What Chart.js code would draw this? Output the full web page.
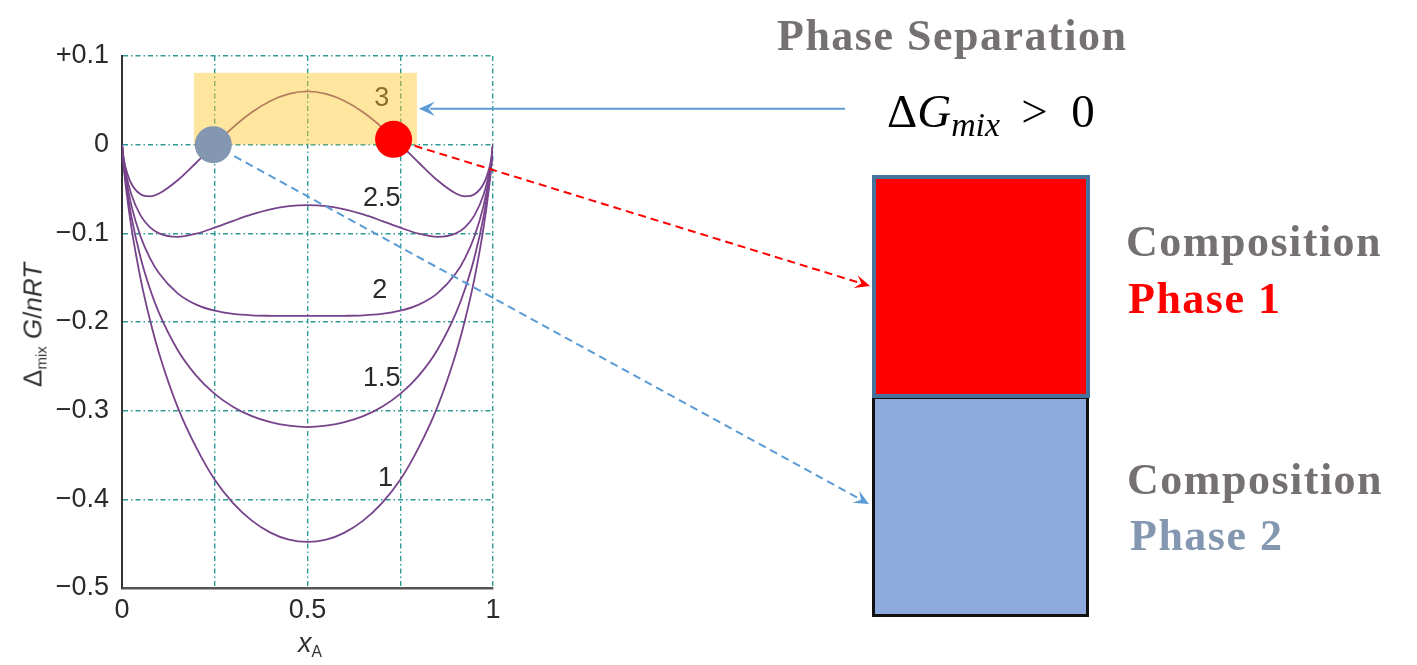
<!DOCTYPE html>
<html>
<head>
<meta charset="utf-8">
<script src="https://cdn.jsdelivr.net/npm/chart.js@4.4.1/dist/chart.umd.min.js"></script>
<style>
  body { margin: 0; background: #fff; }
  #wrap { position: relative; width: 1417px; height: 665px; overflow: hidden; }
  #chart { position: absolute; left: 0; top: 0; }
  .axis-title { position: absolute; font-family: "Liberation Sans", Arial, sans-serif; color: #333; white-space: nowrap; }
  .axis-title sub { font-size: 0.58em; vertical-align: baseline; position: relative; top: 0.3em; }
  #ytitle { left: 33px; top: 325px; font-size: 26px; transform: translate(-50%, -50%) rotate(-90deg); }
  #xtitle { left: 310px; top: 628px; font-size: 27px; transform: translateX(-50%); }
  .serif { position: absolute; font-family: "Liberation Serif", "Times New Roman", serif; font-weight: bold; font-size: 44px; line-height: 1; letter-spacing: 1.5px; white-space: nowrap; color: #767171; }
  #formula { position: absolute; left: 887px; top: 88px; font-family: "Liberation Serif", serif; font-size: 47px; line-height: 1; white-space: nowrap; color: #000; }
  #formula sub { font-size: 0.72em; vertical-align: baseline; position: relative; top: 0.28em; }
  #formula .rel { margin: 0 0.5em 0 0.45em; }
  .box { position: absolute; box-sizing: border-box; }
  #phase2 { left: 872px; top: 396px; width: 217px; height: 221px; background: #8FAADC; border: 3px solid #111; }
  #phase1 { left: 872px; top: 175px; width: 218px; height: 223px; background: #FF0000; border: 4px solid #46729E; }
</style>
</head>
<body>
<div id="wrap">
  <canvas id="chart" width="1417" height="665"></canvas>
  <div class="axis-title" id="ytitle">&Delta;<sub>mix</sub> <i>G</i>/<i>nRT</i></div>
  <div class="axis-title" id="xtitle"><i>x</i><sub>A</sub></div>

  <div class="serif" style="left:777px; top:14px;">Phase Separation</div>
  <div id="formula">&Delta;<i>G</i><sub><i>mix</i></sub><span class="rel">&gt;</span>0</div>

  <div class="box" id="phase2"></div>
  <div class="box" id="phase1"></div>

  <div class="serif" style="left:1126px; top:220px;">Composition</div>
  <div class="serif" style="left:1128px; top:277px; color:#FF0000;">Phase 1</div>
  <div class="serif" style="left:1127px; top:458px;">Composition</div>
  <div class="serif" style="left:1130px; top:514px; color:#8497B0;">Phase 2</div>
</div>

<script>
// mole fraction of A
const xA = [0, 0.005, 0.01, 0.025, 0.05, 0.075, 0.1, 0.15, 0.2, 0.25, 0.3, 0.35, 0.4, 0.45, 0.5,
            0.55, 0.6, 0.65, 0.7, 0.75, 0.8, 0.85, 0.9, 0.925, 0.95, 0.975, 0.99, 0.995, 1];

// Δmix G / nRT for each interaction parameter ξ
const xiLabels = ['1', '1.5', '2', '2.5', '3'];
const g_xi1 = [0, -0.0265, -0.0461, -0.0925, -0.1510, -0.1970, -0.2355, -0.2960, -0.3415, -0.3780, -0.4045, -0.4240, -0.4375, -0.4455, -0.4480,
               -0.4455, -0.4375, -0.4240, -0.4045, -0.3780, -0.3415, -0.2960, -0.2355, -0.1970, -0.1510, -0.0925, -0.0461, -0.0265, 0];
const g_xi15 = [0, -0.0240, -0.0412, -0.0803, -0.1273, -0.1623, -0.1901, -0.2315, -0.2604, -0.2811, -0.2959, -0.3062, -0.3130, -0.3169, -0.3185,
                -0.3169, -0.3130, -0.3062, -0.2959, -0.2811, -0.2604, -0.2315, -0.1901, -0.1623, -0.1273, -0.0803, -0.0412, -0.0240, 0];
const g_xi2 = [0, -0.0215, -0.0362, -0.0682, -0.1035, -0.1276, -0.1451, -0.1677, -0.1804, -0.1873, -0.1909, -0.1925, -0.1930, -0.1931, -0.1932,
               -0.1931, -0.1930, -0.1925, -0.1909, -0.1873, -0.1804, -0.1677, -0.1451, -0.1276, -0.1035, -0.0682, -0.0362, -0.0215, 0];
const g_xi25 = [0, -0.0190, -0.0313, -0.0560, -0.0798, -0.0930, -0.1001, -0.1040, -0.1004, -0.0936, -0.0859, -0.0787, -0.0730, -0.0694, -0.0682,
                -0.0694, -0.0730, -0.0787, -0.0859, -0.0936, -0.1004, -0.1040, -0.1001, -0.0930, -0.0798, -0.0560, -0.0313, -0.0190, 0];
const g_xi3 = [0, -0.0166, -0.0263, -0.0438, -0.0560, -0.0583, -0.0551, -0.0402, -0.0204, 0.0002, 0.0198, 0.0365, 0.0492, 0.0572, 0.0600,
               0.0572, 0.0492, 0.0365, 0.0198, 0.0002, -0.0204, -0.0402, -0.0551, -0.0583, -0.0560, -0.0438, -0.0263, -0.0166, 0];
const curves = [g_xi1, g_xi15, g_xi2, g_xi25, g_xi3];

// where each ξ label sits (data coords)
const labelX = [0.71, 0.70, 0.695, 0.70, 0.70];
const labelY = [-0.377, -0.264, -0.165, -0.061, 0.052];

// the two coexisting compositions on the ξ = 3 curve
const phaseX = [0.246, 0.732];
const phaseY = [0, 0.006];
const phaseColors = ['#8497B0', '#FF0000'];

// highlighted region where ΔG_mix > 0
const hlX = [0.194, 0.795];
const hlY = [0, 0.081];

const yTicks = [0.1, 0, -0.1, -0.2, -0.3, -0.4, -0.5];

const CURVE_COLOR = '#77438B';
const GRID_COLOR = '#2E9A96';
const TICK_FONT = {family: '"Liberation Sans", Arial, sans-serif', size: 27};

function stealthArrow(ctx, x1, y1, x2, y2, color, width, dash, head) {
    const a = Math.atan2(y2 - y1, x2 - x1);
    const cos = Math.cos(a), sin = Math.sin(a);
    ctx.save();
    ctx.strokeStyle = color;
    ctx.fillStyle = color;
    ctx.lineWidth = width;
    ctx.setLineDash(dash);
    ctx.beginPath();
    ctx.moveTo(x1, y1);
    ctx.lineTo(x2 - cos * head * 0.7, y2 - sin * head * 0.7);
    ctx.stroke();
    ctx.setLineDash([]);
    const w = head * 0.45;
    ctx.beginPath();
    ctx.moveTo(x2, y2);
    ctx.lineTo(x2 - cos * head - sin * w, y2 - sin * head + cos * w);
    ctx.lineTo(x2 - cos * head * 0.6, y2 - sin * head * 0.6);
    ctx.lineTo(x2 - cos * head + sin * w, y2 - sin * head - cos * w);
    ctx.closePath();
    ctx.fill();
    ctx.restore();
}

const decorations = {
    id: 'decorations',
    beforeDatasetsDraw(chart) {
        const {ctx, scales: {x, y}} = chart;
        ctx.save();
        ctx.font = `${TICK_FONT.size}px ${TICK_FONT.family}`;
        ctx.fillStyle = '#2a2a2a';
        ctx.textAlign = 'center';
        ctx.textBaseline = 'middle';
        xiLabels.forEach((t, i) => {
            ctx.fillText(t, x.getPixelForValue(labelX[i]), y.getPixelForValue(labelY[i]));
        });
        ctx.restore();
    },
    afterDatasetDraw(chart, args) {
        // lay the highlight over the curves but under the phase markers
        if (args.index !== 0) return;
        const {ctx, scales: {x, y}} = chart;
        const l = x.getPixelForValue(hlX[0]), r = x.getPixelForValue(hlX[1]);
        const t = y.getPixelForValue(hlY[1]), b = y.getPixelForValue(hlY[0]);
        ctx.save();
        ctx.fillStyle = 'rgba(255, 200, 40, 0.45)';
        ctx.fillRect(l, t, r - l, b - t);
        ctx.restore();
    },
    afterDraw(chart) {
        const {ctx, scales: {x, y}} = chart;
        // solid arrow pointing at the highlighted region
        const tipX = x.getPixelForValue(hlX[1]) + 2;
        const midY = y.getPixelForValue((hlY[0] + hlY[1]) / 2);
        stealthArrow(ctx, 845, midY, tipX, midY, '#5B9BD5', 2, [], 16);

        // dashed arrows from each composition to its phase box
        const targets = [[869, 504], [870, 286]];
        const colors = ['#5B9BD5', '#FF0000'];
        phaseX.forEach((px, i) => {
            const cx = x.getPixelForValue(px), cy = y.getPixelForValue(phaseY[i]);
            const [tx, ty] = targets[i];
            const len = Math.hypot(tx - cx, ty - cy);
            const off = i === 0 ? 24 : 22;
            const sx = cx + (tx - cx) / len * off, sy = cy + (ty - cy) / len * off;
            stealthArrow(ctx, sx, sy, tx, ty, colors[i], 2, [8, 5], 15);
        });
    }
};

const datasets = curves.map((vals, i) => ({
    label: 'xi = ' + xiLabels[i],
    data: xA.map((v, j) => ({x: v, y: vals[j]})),
    showLine: true,
    borderColor: CURVE_COLOR,
    borderWidth: 1.8,
    pointRadius: 0,
    cubicInterpolationMode: 'monotone',
    order: 0
}));

datasets.push({
    label: 'phases',
    data: phaseX.map((v, i) => ({x: v, y: phaseY[i]})),
    showLine: false,
    pointRadius: 18.5,
    pointBackgroundColor: phaseColors,
    pointBorderWidth: 0,
    order: -1
});

new Chart(document.getElementById('chart'), {
    type: 'scatter',
    data: {datasets},
    options: {
        responsive: false,
        animation: false,
        devicePixelRatio: 1,
        layout: {padding: {top: 56, right: 924, left: 0, bottom: 0}},
        plugins: {legend: {display: false}, tooltip: {enabled: false}},
        scales: {
            x: {
                type: 'linear',
                min: 0,
                max: 1,
                afterFit: s => { s.height = 77; },
                ticks: {
                    stepSize: 0.25,
                    padding: 6,
                    color: '#2a2a2a',
                    font: TICK_FONT,
                    callback: v => (v === 0 ? '0' : v === 0.5 ? '0.5' : v === 1 ? '1' : '')
                },
                grid: {color: GRID_COLOR, lineWidth: 1.4, drawTicks: false},
                border: {display: true, color: '#555', width: 2.5, dash: [5, 3, 1.5, 3]}
            },
            y: {
                type: 'linear',
                min: -0.5,
                max: 0.1,
                afterFit: s => { s.width = 122; },
                afterBuildTicks: s => { s.ticks = yTicks.map(v => ({value: v})); },
                ticks: {
                    padding: 13,
                    color: '#2a2a2a',
                    font: TICK_FONT,
                    callback: v => {
                        const r = Math.round(v * 10) / 10;
                        if (r === 0) return '0';
                        return (r > 0 ? '+' : '\u2212') + Math.abs(r).toFixed(1);
                    }
                },
                grid: {color: GRID_COLOR, lineWidth: 1.4, drawTicks: false},
                border: {display: true, color: '#333', width: 2, dash: [5, 3, 1.5, 3]}
            }
        }
    },
    plugins: [decorations]
});
</script>
</body>
</html>
